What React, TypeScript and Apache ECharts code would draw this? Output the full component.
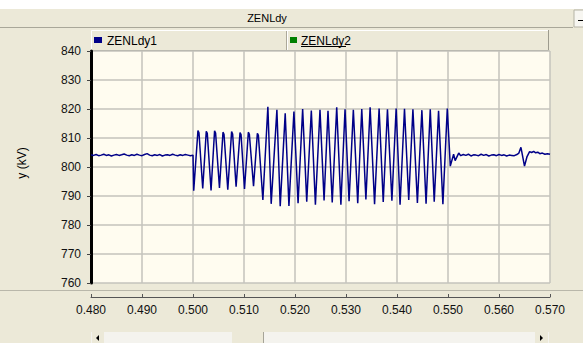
import React, { useEffect, useRef } from "react";
import * as echarts from "echarts";

// Axis ranges and ticks
const timeTicks = [0.48, 0.49, 0.5, 0.51, 0.52, 0.53, 0.54, 0.55, 0.56, 0.57];
const voltageTicks = [760, 770, 780, 790, 800, 810, 820, 830, 840];

// Steady state before the disturbance: [time (s), voltage (kV)]
const steadyBefore: [number, number][] = [
  [0.48, 804.2], [0.4805, 804.0], [0.481, 804.3], [0.4815, 803.9], [0.482, 804.1],
  [0.4825, 804.4], [0.483, 804.0], [0.4835, 804.2], [0.484, 803.8], [0.4845, 804.1],
  [0.485, 804.3], [0.4855, 804.0], [0.486, 804.2], [0.4865, 804.5], [0.487, 804.1],
  [0.4875, 803.9], [0.488, 804.2], [0.4885, 804.0], [0.489, 804.4], [0.4895, 804.1],
  [0.49, 803.9], [0.4905, 804.3], [0.491, 804.6], [0.4915, 804.1], [0.492, 803.9],
  [0.4925, 804.2], [0.493, 804.0], [0.4935, 804.3], [0.494, 803.8], [0.4945, 804.1],
  [0.495, 804.2], [0.4955, 804.0], [0.496, 804.4], [0.4965, 804.1], [0.497, 803.9],
  [0.4975, 804.2], [0.498, 804.0], [0.4985, 804.3], [0.499, 804.1], [0.4995, 803.9],
  [0.5, 804.1],
];

// First oscillation stage: troughs, flat-topped peaks
const swingLow: [number, number][] = [
  [0.50014, 791.8], [0.50097, 812.6], [0.50117, 811.8], [0.50191, 792.6],
  [0.5026, 812.3], [0.5028, 811.6], [0.50354, 791.9], [0.50423, 812.5],
  [0.50443, 811.7], [0.50519, 792.8], [0.50588, 812.0], [0.50608, 811.3],
  [0.50682, 792.2], [0.50757, 812.2], [0.50777, 811.4], [0.50845, 793.2],
  [0.50922, 811.9], [0.50942, 811.2], [0.5101, 792.4], [0.51085, 812.0],
  [0.51105, 811.3], [0.51187, 793.4], [0.51262, 811.6], [0.51282, 810.9],
];

// Second, larger oscillation stage: alternating troughs and peaks
const swingHigh: [number, number][] = [
  [0.5137, 788.6], [0.51468, 820.8], [0.51533, 787.3], [0.51645, 819.7],
  [0.5171, 786.5], [0.51808, 818.5], [0.51881, 786.6], [0.51979, 819.1],
  [0.5206, 787.5], [0.5215, 820.0], [0.5223, 788.0], [0.5232, 819.5],
  [0.524, 787.0], [0.5249, 819.7], [0.5257, 788.5], [0.52647, 819.4],
  [0.5273, 787.8], [0.52818, 820.6], [0.529, 787.0], [0.52981, 819.9],
  [0.5306, 788.2], [0.53144, 819.7], [0.5323, 787.5], [0.53309, 820.0],
  [0.5339, 788.8], [0.53473, 820.6], [0.5356, 787.2], [0.53649, 820.2],
  [0.5373, 787.9], [0.53813, 819.9], [0.539, 788.4], [0.53983, 820.2],
  [0.5406, 787.0], [0.54147, 820.1], [0.5423, 788.6], [0.54312, 819.9],
  [0.544, 787.6], [0.54488, 819.6], [0.5457, 787.3], [0.54652, 819.9],
  [0.5473, 788.0], [0.54815, 819.4], [0.549, 787.2], [0.54986, 820.2],
];

// Recovery after the oscillation is cleared
const recovery: [number, number][] = [
  [0.55045, 800.3], [0.5511, 804.4], [0.5514, 802.2], [0.5521, 804.8],
  [0.5525, 803.9], [0.553, 804.3], [0.5535, 804.0], [0.554, 804.4],
  [0.5545, 803.8], [0.555, 804.2], [0.5555, 804.1], [0.556, 803.9],
  [0.5565, 804.4], [0.557, 804.0], [0.5575, 804.3], [0.558, 803.8],
  [0.5585, 804.1], [0.559, 804.2], [0.5595, 803.9], [0.56, 804.3],
  [0.5605, 804.0], [0.561, 804.2], [0.5615, 803.8], [0.562, 804.1],
  [0.5625, 804.0], [0.563, 803.9], [0.5635, 804.3], [0.5639, 804.8],
  [0.5643, 806.8], [0.5646, 804.0], [0.565, 800.3], [0.5655, 803.6],
  [0.566, 805.3], [0.5664, 805.0], [0.5668, 805.4], [0.5672, 804.9],
  [0.5676, 805.1], [0.568, 804.6], [0.5685, 804.8], [0.569, 804.4],
  [0.5695, 804.6], [0.57, 804.4],
];

const seriesNames = ["ZENLdy1", "ZENLdy2"];
const seriesColors = ["#000088", "#008000"];
const chartTitle = "ZENLdy";
const yAxisTitle = "y (kV)";

const FONT = "'Liberation Sans', Arial, sans-serif";
const PANEL = "#ECE9D8";

export default function App() {
  const ref = useRef<HTMLDivElement>(null);

  useEffect(() => {
    if (!ref.current) return;
    const chart = echarts.init(ref.current, null, { renderer: "svg" });

    const trace = [...steadyBefore, ...swingLow, ...swingHigh, ...recovery];

    const graphic: any[] = [
      // white strip above the title bar
      { type: "rect", shape: { x: 0, y: 0, width: 583, height: 9 }, style: { fill: "#ffffff" }, silent: true },
      // title bar
      { type: "rect", shape: { x: 0, y: 9, width: 573, height: 18 }, style: { fill: PANEL } },
      { type: "line", shape: { x1: 0, y1: 27.5, x2: 573, y2: 27.5 }, style: { stroke: "#a9a799", lineWidth: 1 } },
      {
        type: "text",
        x: 267,
        y: 18,
        style: { text: chartTitle, fill: "#000", font: `11px ${FONT}`, align: "center", verticalAlign: "middle" },
      },
      // minimise button
      { type: "rect", shape: { x: 574, y: 10, width: 12, height: 17 }, style: { fill: "#f7f6f1", stroke: "#b5b3a6", lineWidth: 1 } },
      { type: "line", shape: { x1: 578, y1: 20.5, x2: 583, y2: 20.5 }, style: { stroke: "#000", lineWidth: 1 } },

      // legend strip
      { type: "rect", shape: { x: 91, y: 30, width: 457, height: 20 }, style: { fill: PANEL } },
      { type: "polyline", shape: { points: [[91.5, 50], [91.5, 30.5], [548, 30.5]] }, style: { stroke: "#ffffff", lineWidth: 1, fill: "none" } },
      { type: "polyline", shape: { points: [[548.5, 30], [548.5, 50.5], [91, 50.5]] }, style: { stroke: "#9d9b8e", lineWidth: 1, fill: "none" } },
      { type: "line", shape: { x1: 286.5, y1: 31, x2: 286.5, y2: 50 }, style: { stroke: "#aca899", lineWidth: 1 } },
      { type: "line", shape: { x1: 287.5, y1: 31, x2: 287.5, y2: 50 }, style: { stroke: "#ffffff", lineWidth: 1 } },
      { type: "rect", shape: { x: 94, y: 37, width: 8, height: 6 }, style: { fill: seriesColors[0] } },
      {
        type: "text",
        x: 107,
        y: 40.5,
        style: { text: seriesNames[0], fill: "#000", font: `12px ${FONT}`, verticalAlign: "middle" },
      },
      { type: "rect", shape: { x: 290, y: 37, width: 7, height: 6 }, style: { fill: seriesColors[1] } },
      {
        type: "text",
        x: 301,
        y: 40.5,
        style: { text: seriesNames[1], fill: "#000", font: `12px ${FONT}`, verticalAlign: "middle" },
      },
      { type: "line", shape: { x1: 301, y1: 46.5, x2: 346, y2: 46.5 }, style: { stroke: "#000", lineWidth: 1 } },

      // y axis title
      {
        type: "text",
        x: 22,
        y: 163,
        rotation: Math.PI / 2,
        style: { text: yAxisTitle, fill: "#000", font: `12px ${FONT}`, align: "center", verticalAlign: "middle" },
      },

      // separator between plot and time axis
      { type: "line", shape: { x1: 0, y1: 290.5, x2: 583, y2: 290.5 }, style: { stroke: "#b9b7aa", lineWidth: 1 } },

      // horizontal scroll bar
      { type: "rect", shape: { x: 91, y: 332, width: 458, height: 11 }, style: { fill: "#f4f3ee" } },
      { type: "rect", shape: { x: 92, y: 332, width: 12, height: 11 }, style: { fill: PANEL } },
      { type: "polygon", shape: { points: [[96, 338], [99, 335], [99, 341]] }, style: { fill: "#000" } },
      { type: "rect", shape: { x: 535, y: 332, width: 13, height: 11 }, style: { fill: PANEL } },
      { type: "polygon", shape: { points: [[543, 338], [540, 335], [540, 341]] }, style: { fill: "#000" } },
      { type: "rect", shape: { x: 232, y: 332, width: 31, height: 11 }, style: { fill: PANEL } },
      { type: "line", shape: { x1: 263.5, y1: 332, x2: 263.5, y2: 343 }, style: { stroke: "#a6a498", lineWidth: 1 } },
    ];

    chart.setOption({
      animation: false,
      backgroundColor: PANEL,
      graphic,
      grid: {
        left: 91,
        right: 33,
        top: 51,
        bottom: 60,
        show: true,
        backgroundColor: "#fffcf0",
        borderWidth: 0,
      },
      xAxis: {
        type: "value",
        min: timeTicks[0],
        max: timeTicks[timeTicks.length - 1],
        interval: 0.01,
        offset: 14,
        axisLine: { show: true, lineStyle: { color: "#555", width: 1 } },
        axisTick: { show: true, inside: true, length: 3, lineStyle: { color: "#555" } },
        axisLabel: {
          margin: 7,
          color: "#111",
          fontFamily: FONT,
          fontSize: 12,
          formatter: (v: number) => v.toFixed(3),
        },
        splitLine: { show: true, lineStyle: { color: "#c4c3bd", width: 1.5 } },
      },
      yAxis: {
        type: "value",
        min: voltageTicks[0],
        max: voltageTicks[voltageTicks.length - 1],
        interval: 10,
        axisLine: { show: true, lineStyle: { color: "#000", width: 3 } },
        axisTick: { show: true, length: 4, lineStyle: { color: "#444" } },
        axisLabel: { margin: 10, color: "#111", fontFamily: FONT, fontSize: 12 },
        splitLine: { show: true, lineStyle: { color: "#c4c3bd", width: 1.5 } },
      },
      series: [
        {
          name: seriesNames[0],
          type: "line",
          data: trace,
          showSymbol: false,
          lineStyle: { color: seriesColors[0], width: 1.5 },
          z: 3,
        },
      ],
    });

    return () => chart.dispose();
  }, []);

  return (
    <div
      ref={ref}
      style={{ position: "absolute", left: 0, top: 0, width: 583, height: 343 }}
    />
  );
}
